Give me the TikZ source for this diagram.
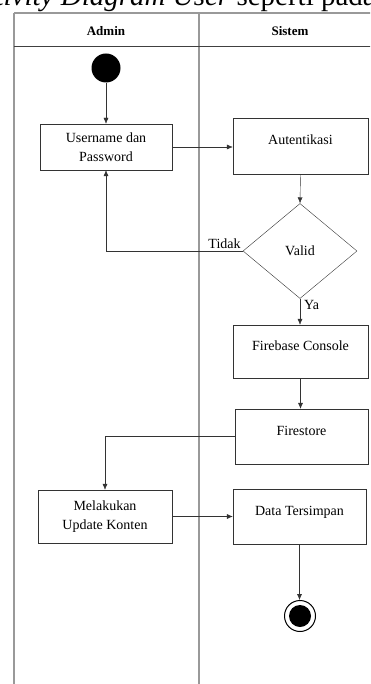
\documentclass[tikz,border=0pt]{standalone}
\usepackage{fontspec}
\setmainfont{Liberation Serif}
\usetikzlibrary{shapes.geometric,arrows.meta}

\begin{document}
\begin{tikzpicture}[x=1pt,y=-1pt,
  act/.style = {draw=black!80, thin, align=center, inner sep=0pt,
                font=\fontsize{14}{19}\selectfont},
  sysact/.style = {act, text height=10pt, text depth=12pt},
  flow/.style = {draw=black!80, -{Latex[length=6pt,width=5pt]}},
  lane/.style = {draw=black!40, line width=1.5pt}]
  \useasboundingbox (0,0) rectangle (370,684);
  \clip (0,0) rectangle (370,684);

  % Caption line cut at the top
  \node[anchor=base east, inner sep=0pt, font=\fontsize{29}{32}\selectfont]
    (cap) at (376,6) {\textit{Activity Diagram User} seperti pada};

  % Swimlanes
  \draw[lane] (14,13) -- (372,13);
  \draw[lane] (14,13) -- (14,690);
  \draw[lane] (199,13) -- (199,690);
  \draw[black!75, line width=1pt] (14,47) -- (372,47);
  \node[font=\bfseries\fontsize{13}{15}\selectfont] (admin) at (106,31) {Admin};
  \node[font=\bfseries\fontsize{13}{15}\selectfont] (sistem) at (290,31) {Sistem};

  % Activities
  \node[circle, fill=black, minimum size=29pt, inner sep=0pt] (start) at (106,68) {};
  \node[act, minimum width=132pt, minimum height=46pt] (user) at (106,147) {Username dan\\Password};
  \node[sysact, minimum width=135pt, minimum height=56pt] (auth) at (300.5,146) {Autentikasi};
  \node[diamond, draw=black!80, thin, inner sep=0pt, minimum width=114pt, minimum height=95pt,
        font=\fontsize{14}{19}\selectfont] (valid) at (300,251) {Valid};
  \node[sysact, minimum width=135pt, minimum height=53pt] (fbc) at (300.5,351.5) {Firebase Console};
  \node[sysact, minimum width=133pt, minimum height=55pt] (fst) at (301.5,436.5) {Firestore};
  \node[act, minimum width=134pt, minimum height=53pt] (upd) at (105,516.5) {Melakukan\\Update Konten};
  \node[sysact, minimum width=133pt, minimum height=55pt] (data) at (299.5,516.5) {Data Tersimpan};
  \node[circle, draw=black, line width=1pt, minimum size=31pt, inner sep=0pt] (end) at (300,616) {};
  \fill (end) circle (11pt);

  % Flows
  \draw[flow] (start) -- (user);
  \draw[flow] (user.east) -- (user.east -| auth.west);
  \draw[flow] (auth.south) -- (valid.north);
  \draw[flow] (valid.west) -| (user.south)
    node[at start, above left, inner sep=2pt, font=\fontsize{14}{16}\selectfont] {Tidak};
  \draw[flow] (valid.south) -- (valid.south |- fbc.north)
    node[near start, right, inner sep=4pt, font=\fontsize{14}{16}\selectfont] {Ya};
  \draw[flow] (fbc.south) -- (fbc.south |- fst.north);
  \draw[flow] (fst.west) -| (upd.north);
  \draw[flow] (upd.east) -- (upd.east -| data.west);
  \draw[flow] (data.south) -- (data.south |- end.north);

\end{tikzpicture}
\end{document}
